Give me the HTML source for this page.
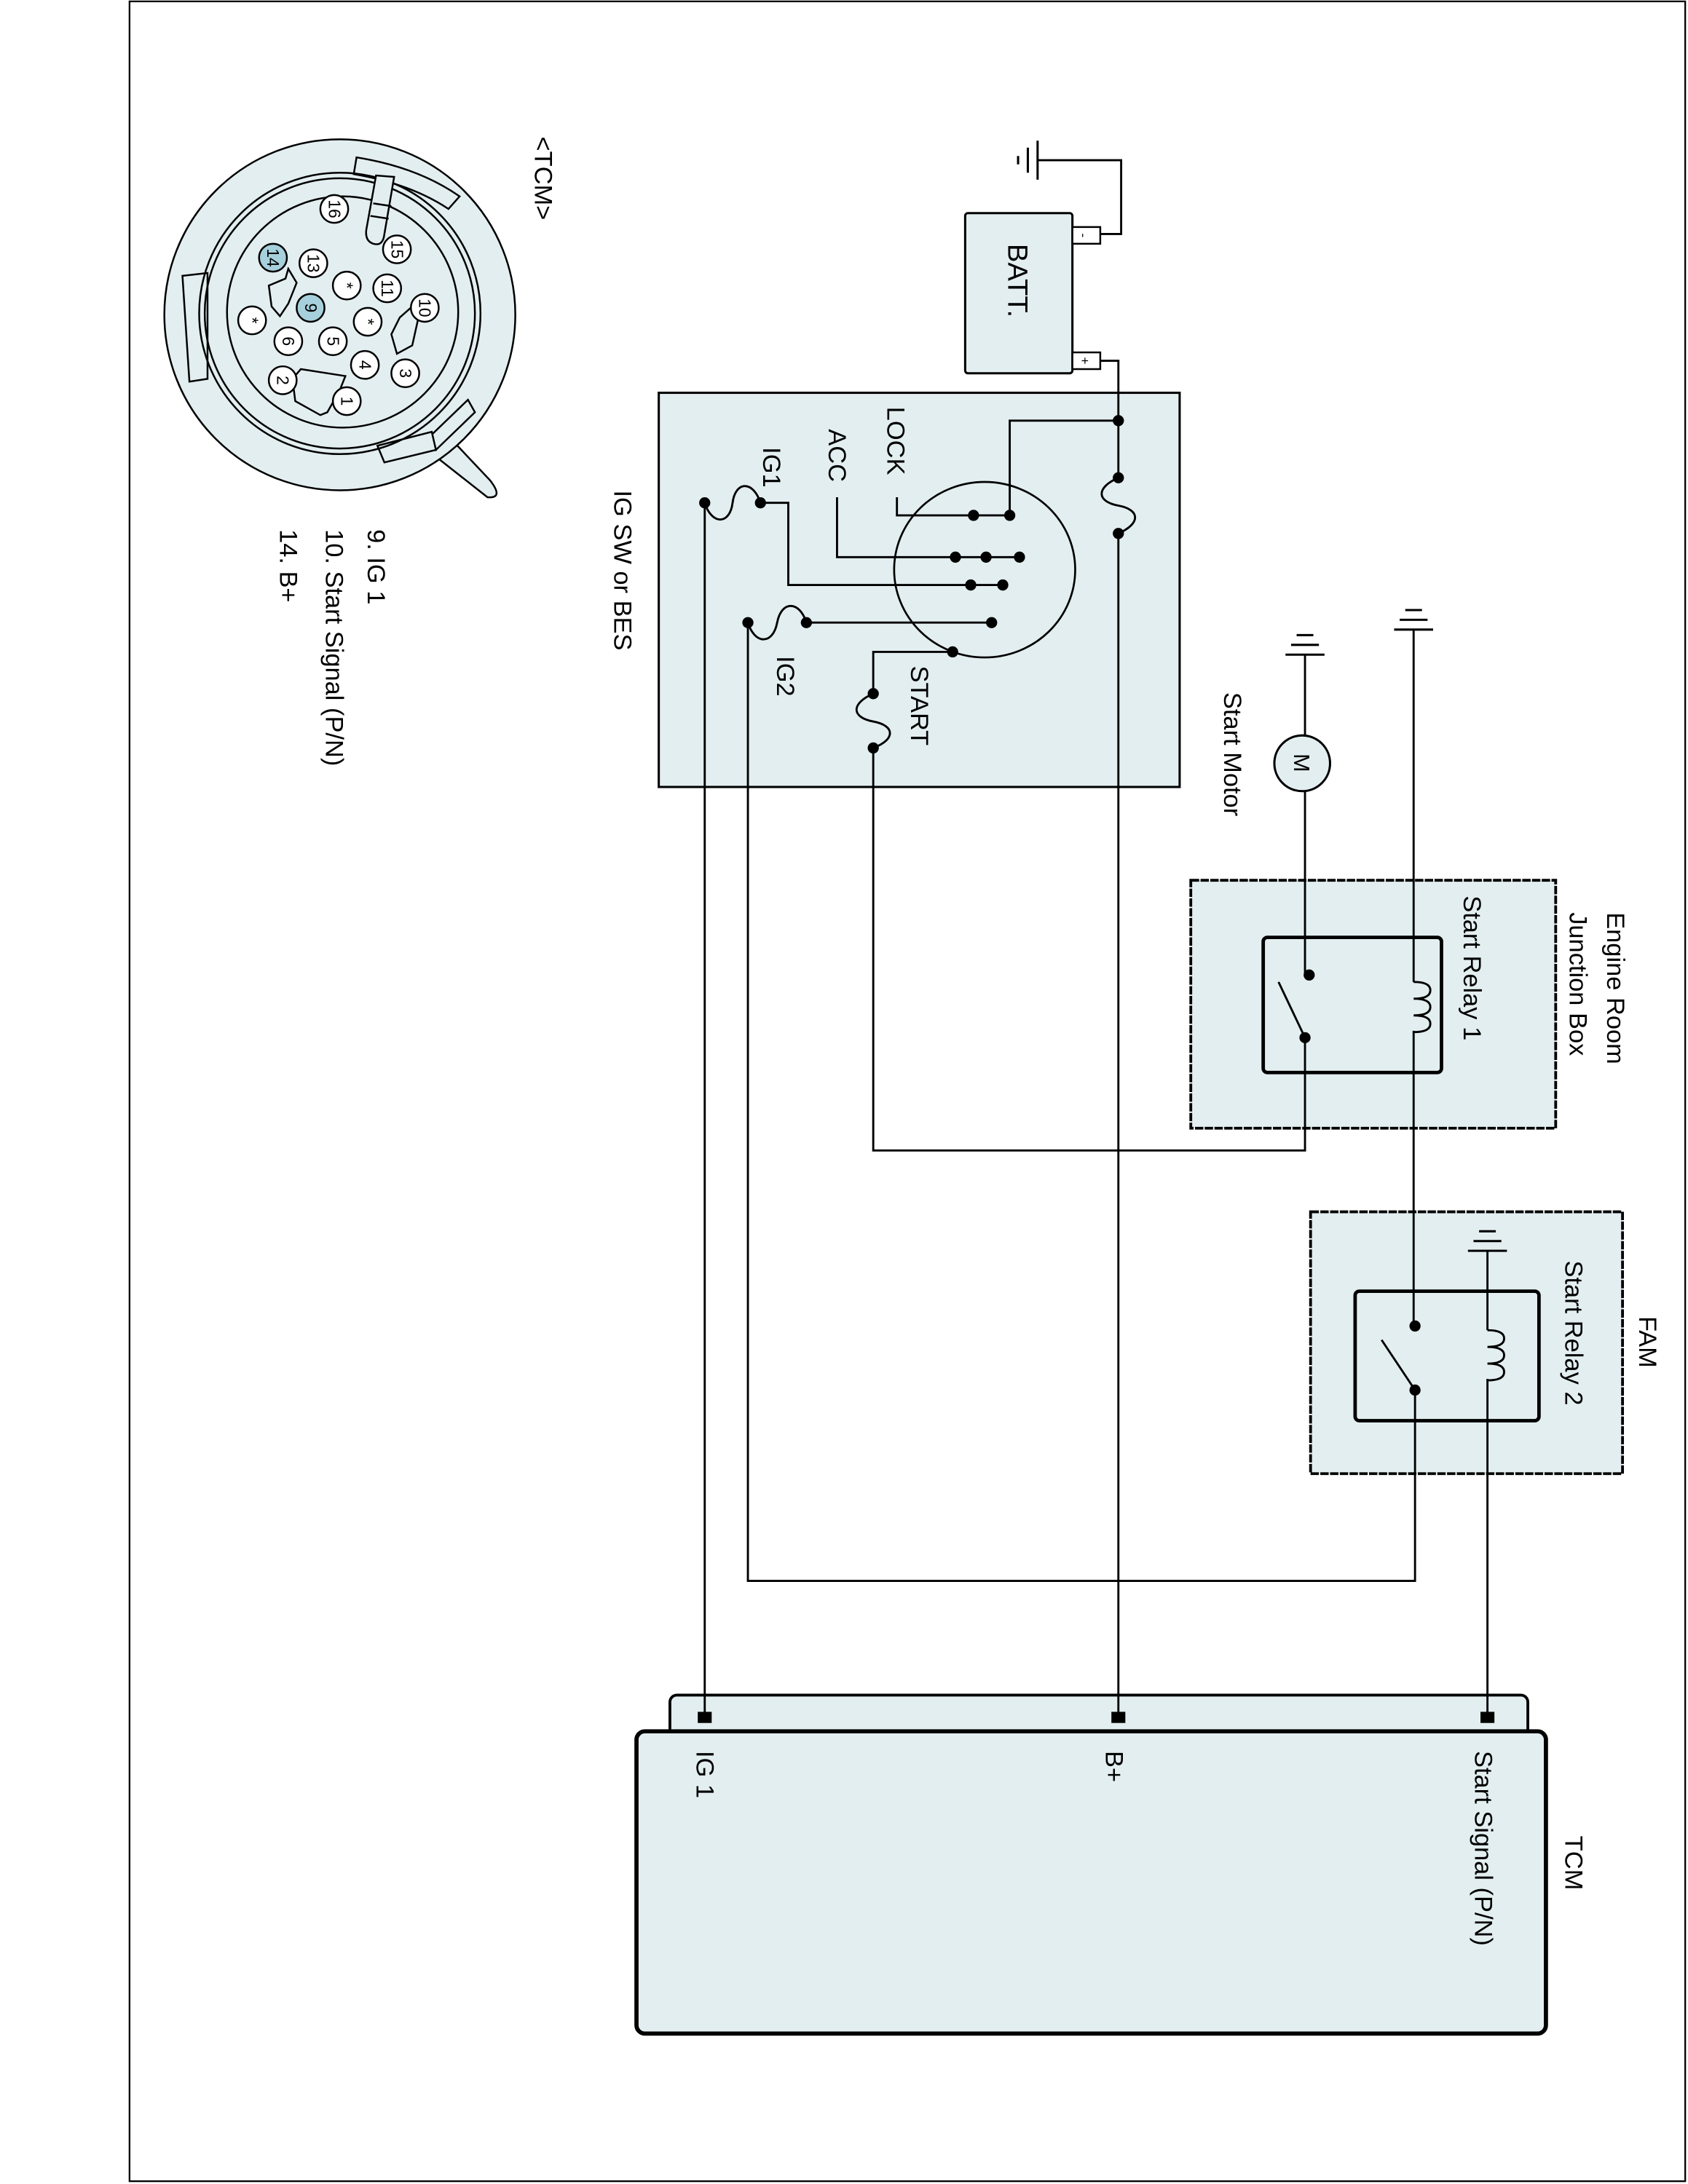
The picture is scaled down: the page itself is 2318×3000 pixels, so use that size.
<!DOCTYPE html>
<html><head><meta charset="utf-8"><style>
html,body{margin:0;padding:0;background:#fff}
svg{display:block}
text{font-family:"Liberation Sans",Arial,sans-serif;fill:#000}
</style></head><body>
<svg width="2318" height="3000" viewBox="0 0 1212 1568" preserveAspectRatio="none" xmlns="http://www.w3.org/2000/svg">
<g fill="none" stroke="#000" stroke-width="1.2">
<rect x="93" y="1" width="1117" height="1565"/>
</g>

<!-- Connector -->
<g stroke="#000" stroke-width="1.3" fill="#e3eef0">
<path d="M319,310 L352,345 Q362,358 350,357 L303,320 Z"/>
<circle cx="244" cy="226" r="126"/>
<path d="M131,198 L149,196 L149,272 L136,274 Z"/>
<path d="M254,125 L256,113 Q300,120 330,141 L322,150 Q295,132 254,125 Z"/>
<path d="M309,313 L336,287 L341,296 L313,323 Z"/>
<path d="M271,320 L310,310 L313,323 L276,332 Z"/>
<circle cx="244" cy="225" r="101" fill="none"/>
<circle cx="244" cy="225" r="97" fill="none"/>
<circle cx="246" cy="224" r="83" fill="none"/>
<path d="M283,127 L276,168 Q275,177 268,175 Q262,173 263,165 L270,126 Z" fill="#e3eef0"/>
<line x1="266" y1="155" x2="279" y2="157"/>
<line x1="268" y1="146" x2="281" y2="148"/>
<path d="M193,205 L205,200 L207,193 L213,203 L207,218 L201,227 L195,220 Z"/>
<path d="M287,228 L296,220 L300,230 L296,248 L285,254 L281,240 Z"/>
<path d="M216,265 L248,270 L244,280 L235,296 L230,298 L212,288 L210,272 Z"/>
</g>
<g stroke="#000" stroke-width="1.3" fill="#fff">
<circle cx="240" cy="150" r="10"/><circle cx="285" cy="179" r="10"/>
<circle cx="196" cy="185" r="10" fill="#a6d0db"/><circle cx="225" cy="189" r="10"/>
<circle cx="249" cy="205" r="10"/><circle cx="278" cy="207" r="10"/>
<circle cx="305" cy="221" r="10"/><circle cx="223" cy="221" r="10" fill="#a6d0db"/>
<circle cx="181" cy="230" r="10"/><circle cx="264" cy="231" r="10"/>
<circle cx="207" cy="245" r="10"/><circle cx="239" cy="245" r="10"/>
<circle cx="262" cy="262" r="10"/><circle cx="291" cy="268" r="10"/>
<circle cx="203" cy="273" r="10"/><circle cx="249" cy="288" r="10"/>
</g>
<g font-size="12" text-anchor="middle">
<text transform="translate(236,150) rotate(90)">16</text>
<text transform="translate(281,179) rotate(90)">15</text>
<text transform="translate(192,185) rotate(90)">14</text>
<text transform="translate(221,189) rotate(90)">13</text>
<text transform="translate(245,205) rotate(90)">*</text>
<text transform="translate(274,207) rotate(90)">11</text>
<text transform="translate(301,221) rotate(90)">10</text>
<text transform="translate(219,221) rotate(90)">9</text>
<text transform="translate(177,230) rotate(90)">*</text>
<text transform="translate(260,231) rotate(90)">*</text>
<text transform="translate(203,245) rotate(90)">6</text>
<text transform="translate(235,245) rotate(90)">5</text>
<text transform="translate(258,262) rotate(90)">4</text>
<text transform="translate(287,268) rotate(90)">3</text>
<text transform="translate(199,273) rotate(90)">2</text>
<text transform="translate(245,288) rotate(90)">1</text>
</g>

<!-- boxes -->
<g stroke="#000" fill="#e3eef0">
<rect x="693" y="153" width="77" height="115" rx="2" stroke-width="1.6"/>
<rect x="770" y="163" width="20" height="12" fill="#fff" stroke-width="1.3"/>
<rect x="770" y="253" width="20" height="12" fill="#fff" stroke-width="1.3"/>
<rect x="473" y="282" width="374" height="283" stroke-width="1.6"/>
<rect x="855" y="632" width="262" height="178" stroke-width="2" stroke-dasharray="6,1"/>
<rect x="941" y="870" width="224" height="188" stroke-width="2" stroke-dasharray="6,1"/>
<rect x="907" y="673" width="128" height="97" rx="3" stroke-width="2.5"/>
<rect x="973" y="927" width="132" height="93" rx="3" stroke-width="2.5"/>
<rect x="481" y="1217" width="616" height="34" rx="5" stroke-width="2"/>
<rect x="457" y="1243" width="653" height="217" rx="6" stroke-width="3"/>
</g>
<ellipse cx="707" cy="409" rx="65" ry="63" fill="none" stroke="#000" stroke-width="1.4"/>
<g font-size="9" text-anchor="middle"><text transform="translate(775,169) rotate(90)">-</text><text transform="translate(776,259) rotate(90)">+</text></g>

<g font-size="18">
<text transform="translate(384,98) rotate(90)">&lt;TCM&gt;</text>
<text transform="translate(264,380) rotate(90)">9. IG 1</text>
<text transform="translate(234,380) rotate(90)">10. Start Signal (P/N)</text>
<text transform="translate(201,380) rotate(90)">14. B+</text>
<text transform="translate(724,175) rotate(90)" font-size="20">BATT.</text>
<text transform="translate(441,352) rotate(90)">IG SW or BES</text>
<text transform="translate(879,497) rotate(90)">Start Motor</text>
<text transform="translate(1154,655) rotate(90)">Engine Room</text>
<text transform="translate(1127,655) rotate(90)">Junction Box</text>
<text transform="translate(1051,643) rotate(90)">Start Relay 1</text>
<text transform="translate(1177,945) rotate(90)">FAM</text>
<text transform="translate(1124,905) rotate(90)">Start Relay 2</text>
<text transform="translate(1124,1318) rotate(90)">TCM</text>
<text transform="translate(500,1257) rotate(90)">IG 1</text>
<text transform="translate(794,1257) rotate(90)">B+</text>
<text transform="translate(1059,1257) rotate(90)">Start Signal (P/N)</text>
<text transform="translate(637,292) rotate(90)">LOCK</text>
<text transform="translate(595,308) rotate(90)">ACC</text>
<text transform="translate(548,321) rotate(90)">IG1</text>
<text transform="translate(558,471) rotate(90)">IG2</text>
<text transform="translate(654,478) rotate(90)">START</text>
</g>

<!-- wires -->
<g fill="none" stroke="#000" stroke-width="1.5">
<path d="M745,115 H805 V168 H790"/>
<path d="M790,259 H803 V343"/>
<path d="M803,343 C787,350 787,360 803,363 C819,366 819,376 803,383"/>
<path d="M803,383 V1233"/>
<path d="M803,302 H725 V370 H644 V357"/>
<path d="M732,400 H601 V357"/>
<path d="M720,420 H566 V361 H546"/>
<path d="M546,361 C541,345 528,345 526,361 C524,377 511,377 506,361"/>
<path d="M506,361 V1233"/>
<path d="M712,447 H579"/>
<path d="M579,447 C574,431 561,431 558,447 C555,463 542,463 537,447"/>
<path d="M537,447 V1135 H1016 V998"/>
<path d="M684,468 H627 V498"/>
<path d="M627,498 C611,505 611,515 627,518 C643,521 643,531 627,537"/>
<path d="M627,537 V826 H937 V745"/>
<path d="M937,700 V568"/>
<path d="M937,528 V470"/>
<path d="M1015,452 V705 M1015,740 V952"/>
<path d="M1015,705 q12,0 12,6 q0,6 -12,6 q12,0 12,6 q0,6 -12,6 q12,0 12,6 q0,6 -12,6"/>
<path d="M1068,898 V955 M1068,990 V1233"/>
<path d="M1068,955 q12,0 12,6 q0,6 -12,6 q12,0 12,6 q0,6 -12,6 q12,0 12,6 q0,6 -12,6"/>
<path d="M937,745 L918,705"/>
<path d="M1016,998 L992,962"/>
</g>
<!-- grounds -->
<g stroke="#000" stroke-width="1.6">
<line x1="745" y1="101" x2="745" y2="129"/><line x1="738" y1="106" x2="738" y2="124"/><line x1="731" y1="112" x2="731" y2="118"/>
<line x1="923" y1="470" x2="951" y2="470"/><line x1="927" y1="463" x2="947" y2="463"/><line x1="931" y1="456" x2="943" y2="456"/>
<line x1="1001" y1="452" x2="1029" y2="452"/><line x1="1005" y1="445" x2="1025" y2="445"/><line x1="1009" y1="438" x2="1021" y2="438"/>
<line x1="1054" y1="898" x2="1082" y2="898"/><line x1="1058" y1="891" x2="1078" y2="891"/><line x1="1062" y1="884" x2="1074" y2="884"/>
</g>
<circle cx="935" cy="548" r="20" fill="#e3eef0" stroke="#000" stroke-width="1.6"/>
<text transform="translate(929,541) rotate(90)" font-size="16">M</text>
<!-- dots -->
<g fill="#000">
<circle cx="803" cy="302" r="4"/><circle cx="803" cy="343" r="4"/><circle cx="803" cy="383" r="4"/>
<circle cx="725" cy="370" r="4"/><circle cx="699" cy="370" r="4"/>
<circle cx="686" cy="400" r="4"/><circle cx="708" cy="400" r="4"/><circle cx="732" cy="400" r="4"/>
<circle cx="697" cy="420" r="4"/><circle cx="720" cy="420" r="4"/>
<circle cx="546" cy="361" r="4"/><circle cx="506" cy="361" r="4"/>
<circle cx="712" cy="447" r="4"/><circle cx="579" cy="447" r="4"/><circle cx="537" cy="447" r="4"/>
<circle cx="684" cy="468" r="4"/><circle cx="627" cy="498" r="4"/><circle cx="627" cy="537" r="4"/>
<circle cx="940" cy="700" r="4"/><circle cx="937" cy="745" r="4"/>
<circle cx="1016" cy="952" r="4"/><circle cx="1016" cy="998" r="4"/>
<rect x="501" y="1229" width="10" height="8"/><rect x="798" y="1229" width="10" height="8"/><rect x="1063" y="1229" width="10" height="8"/>
</g>
</svg>
</body></html>
